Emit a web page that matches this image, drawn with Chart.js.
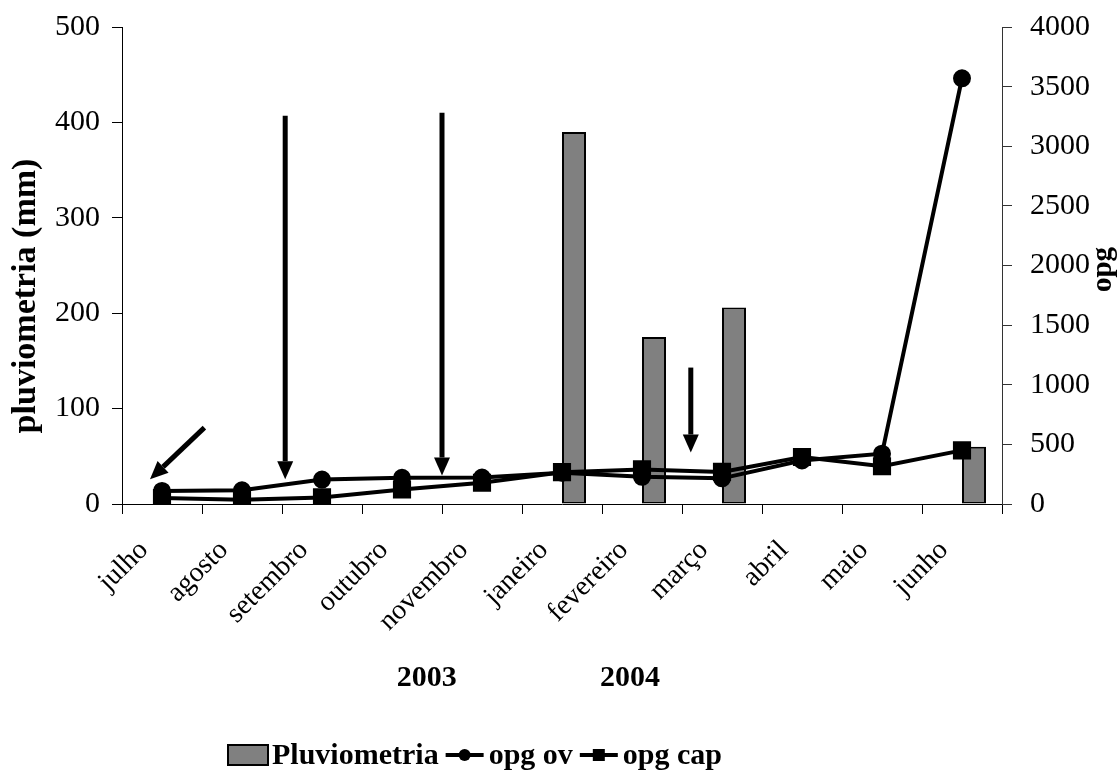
<!DOCTYPE html>
<html>
<head>
<meta charset="utf-8">
<script src="https://cdn.jsdelivr.net/npm/chart.js@4.4.0/dist/chart.umd.min.js"></script>
<style>
  html, body { margin: 0; padding: 0; background: #fff; }
  #wrap { width: 1118px; height: 771px; }
</style>
</head>
<body>
<div id="wrap"><canvas id="grafico"></canvas></div>
<script>
// dados
const meses = ['julho', 'agosto', 'setembro', 'outubro', 'novembro', 'janeiro', 'fevereiro', 'março', 'abril', 'maio', 'junho'];
const pluviometria = [null, null, null, null, null, 390, 175, 206, null, null, 60];
const opgOv = [110, 115, 205, 220, 222, 262, 228, 215, 365, 422, 3570];
const opgCap = [50, 35, 55, 122, 178, 267, 290, 269, 394, 317, 450];
const anos = ['2003', '2004'];
const posAnos = [3.31, 5.85];

// setas: [x inicio, y inicio, x ponta, y ponta] (indice do mes, mm)
const setas = [
    [0.53, 80, -0.15, 26],
    [1.54, 407, 1.54, 26],
    [3.5, 410, 3.5, 30],
    [6.61, 143, 6.61, 54]
];

const fonte = 'Liberation Serif';
const ctx = document.getElementById('grafico').getContext('2d');

function desenharSeta(c, ax, ay, bx, by) {
    const ang = Math.atan2(by - ay, bx - ax);
    const L = 18, W = 8;
    const cx = bx - L * Math.cos(ang), cy = by - L * Math.sin(ang);
    c.beginPath();
    c.moveTo(ax, ay);
    c.lineTo(cx, cy);
    c.stroke();
    c.beginPath();
    c.moveTo(bx, by);
    c.lineTo(cx + W * Math.sin(ang), cy - W * Math.cos(ang));
    c.lineTo(cx - W * Math.sin(ang), cy + W * Math.cos(ang));
    c.closePath();
    c.fill();
}

function textoVertical(c, txt, x, y) {
    c.save();
    c.translate(x, y);
    c.rotate(-Math.PI / 2);
    c.fillText(txt, 0, 0);
    c.restore();
}

const extras = {
    id: 'extras',
    afterDatasetsDraw(chart) {
        const c = chart.ctx;
        const { x, y } = chart.scales;
        c.save();
        c.fillStyle = '#000';
        c.strokeStyle = '#000';
        c.lineWidth = 5;
        setas.forEach(s => {
            desenharSeta(c, x.getPixelForValue(s[0]), y.getPixelForValue(s[1]),
                x.getPixelForValue(s[2]), y.getPixelForValue(s[3]));
        });
        c.restore();
    },
    afterDraw(chart) {
        const c = chart.ctx;
        const area = chart.chartArea;
        const x = chart.scales.x;
        c.save();
        c.fillStyle = '#000';
        c.textAlign = 'center';
        c.textBaseline = 'middle';

        // anos
        c.font = `bold 30px "${fonte}"`;
        anos.forEach((a, i) => c.fillText(a, x.getPixelForValue(posAnos[i]), area.bottom + 174));

        // titulos dos eixos
        c.font = `bold 34px "${fonte}"`;
        textoVertical(c, 'pluviometria (mm)', 26, 296);
        c.font = `bold 29px "${fonte}"`;
        textoVertical(c, 'opg', 1104, (area.top + area.bottom) / 2 + 4);
        c.restore();

        // legenda
        c.save();
        c.font = `bold 30px "${fonte}"`;
        c.textBaseline = 'middle';
        c.textAlign = 'left';
        const ly = chart.height - 16;
        let lx = 228;
        chart.data.datasets.forEach(d => {
            if (!d.label) return;
            if (d.type === 'bar') {
                c.fillStyle = d.backgroundColor;
                c.fillRect(lx, ly - 10, 40, 20);
                c.strokeStyle = '#000';
                c.lineWidth = 2;
                c.strokeRect(lx, ly - 10, 40, 20);
                lx += 44;
            } else {
                c.strokeStyle = '#000';
                c.lineWidth = 4;
                c.beginPath();
                c.moveTo(lx, ly);
                c.lineTo(lx + 38, ly);
                c.stroke();
                c.fillStyle = '#000';
                if (d.pointStyle === 'circle') {
                    c.beginPath();
                    c.arc(lx + 19, ly, 6, 0, Math.PI * 2);
                    c.fill();
                } else {
                    c.fillRect(lx + 13, ly - 6, 12, 12);
                }
                lx += 43;
            }
            c.fillStyle = '#000';
            c.fillText(d.label, lx, ly + 1);
            lx += c.measureText(d.label).width + 7;
        });
        c.restore();
    }
};

new Chart(ctx, {
    type: 'bar',
    data: {
        labels: meses,
        datasets: [
            {
                type: 'bar',
                label: '',
                data: meses.map(() => null),
                yAxisID: 'y',
                order: 2,
                categoryPercentage: 0.6,
                barPercentage: 1
            },
            {
                type: 'bar',
                label: 'Pluviometria',
                data: pluviometria,
                backgroundColor: '#808080',
                borderColor: '#000',
                borderWidth: 2,
                borderSkipped: false,
                yAxisID: 'y',
                order: 2,
                categoryPercentage: 0.6,
                barPercentage: 1
            },
            {
                type: 'line',
                label: 'opg ov',
                data: opgOv,
                yAxisID: 'y2',
                borderColor: '#000',
                borderWidth: 4,
                pointStyle: 'circle',
                pointRadius: 7,
                pointBackgroundColor: '#000',
                pointBorderColor: '#000',
                tension: 0,
                order: 1
            },
            {
                type: 'line',
                label: 'opg cap',
                data: opgCap,
                yAxisID: 'y2',
                borderColor: '#000',
                borderWidth: 4,
                pointStyle: 'rect',
                pointRadius: 10,
                pointBackgroundColor: '#000',
                pointBorderColor: '#000',
                tension: 0,
                order: 1
            }
        ]
    },
    options: {
        responsive: true,
        maintainAspectRatio: false,
        animation: false,
        layout: { padding: { top: 21, bottom: 0, left: 0, right: 0 } },
        plugins: {
            legend: { display: false },
            tooltip: { enabled: false }
        },
        scales: {
            x: {
                offset: true,
                grid: { offset: true, drawOnChartArea: false, color: '#000', tickLength: 10 },
                border: { color: '#000' },
                ticks: {
                    color: '#000',
                    font: { family: fonte, size: 28 },
                    minRotation: 45,
                    maxRotation: 45,
                    autoSkip: false,
                    padding: 20,
                    labelOffset: -18
                },
                afterFit(s) { s.height = 771 - 504; }
            },
            y: {
                position: 'left',
                min: 0,
                max: 500,
                ticks: { stepSize: 100, color: '#000', font: { family: fonte, size: 30, lineHeight: 0.6 }, padding: 12 },
                grid: { drawOnChartArea: false, color: '#000', tickLength: 10 },
                border: { color: '#000' },
                afterFit(s) { s.width = 122; }
            },
            y2: {
                position: 'right',
                min: 0,
                max: 4000,
                ticks: {
                    stepSize: 500,
                    color: '#000',
                    font: { family: fonte, size: 30, lineHeight: 0.6 },
                    padding: 18,
                    callback: v => String(v)
                },
                grid: { drawOnChartArea: false, color: '#333', tickLength: 10 },
                border: { color: '#333' },
                afterFit(s) { s.width = 116; }
            }
        }
    },
    plugins: [extras]
});
</script>
</body>
</html>
